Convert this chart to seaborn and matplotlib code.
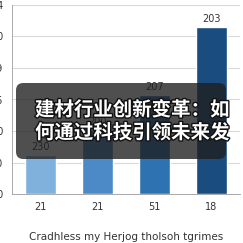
import matplotlib
matplotlib.use("Agg")
import matplotlib.pyplot as plt
import matplotlib.patheffects as pe
from matplotlib.patches import FancyBboxPatch
import seaborn as sns
import pandas as pd

# data
categories = ["c1", "c2", "c3", "c4"]
values = [1.24, 2.03, 3.14, 5.3]
bar_labels = ["230", "200", "207", "203"]
xtick_labels = ["21", "21", "51", "18"]
ytick_values = [0, 1, 2, 3, 4, 5, 6]
ytick_labels = ["00", "10", "20", "16", "19", "30", "34"]
colors = ["#80b1dd", "#4b8ac6", "#2e72b2", "#1a4c80"]
xlabel = "Cradhless my Herjog tholsoh tgrimes"
overlay_lines = ["建材行业创新变革：如", "何通过科技引领未来发"]

sns.set_style("white")
plt.rcParams["font.family"] = ["DejaVu Sans"]

df = pd.DataFrame({"cat": categories, "val": values})

fig = plt.figure(figsize=(2.43, 2.43), dpi=100)
ax = fig.add_axes([12/243, 1 - 194/243, 228/243, 189/243])

sns.barplot(data=df, x="cat", y="val", hue="cat", palette=colors,
            order=categories, hue_order=categories, width=0.53,
            legend=False, ax=ax, saturation=1)

ax.set_ylim(0, 6)
ax.set_xlim(-0.5, 3.5)
ax.set_yticks(ytick_values)
ax.set_yticklabels(ytick_labels, fontsize=7, color="#333333")
ax.tick_params(axis="y", length=0, pad=6)
ax.set_xticks(range(len(categories)))
ax.set_xticklabels(xtick_labels, fontsize=7, color="#333333")
ax.tick_params(axis="x", length=0, pad=6)
ax.set_xticks([0.5, 1.5, 2.5, 3.5], minor=True)
ax.tick_params(axis="x", which="minor", length=3, color="#bbbbbb", width=0.6)
ax.yaxis.grid(True, color="#d9d9d9", linewidth=0.8)
ax.set_axisbelow(True)
for s in ["top", "right"]:
    ax.spines[s].set_visible(False)
ax.spines["left"].set_color("#aaaaaa")
ax.spines["bottom"].set_color("#aaaaaa")
ax.spines["left"].set_linewidth(0.7)
ax.spines["bottom"].set_linewidth(0.7)
ax.set_xlabel(xlabel, fontsize=7.5, color="#333333", labelpad=14)
ax.set_ylabel("")

for i, p in enumerate(ax.patches):
    ax.annotate(bar_labels[i], (p.get_x() + p.get_width() / 2, p.get_height()),
                xytext=(0, 2), textcoords="offset points", ha="center",
                va="bottom", fontsize=7, color="#333333")

box = FancyBboxPatch((16/243, 1 - 159/243), 210/243, 76/243,
                     boxstyle="round,pad=0,rounding_size=0.03",
                     transform=fig.transFigure, facecolor="#1e1e1e",
                     alpha=0.78, edgecolor="none", zorder=10)
fig.patches.append(box)

for j, line in enumerate(overlay_lines):
    fig.text(35/243, 1 - (110 + 23*j)/243, line, fontsize=14, fontweight="bold",
             color="white", va="center", ha="left",
             family=["Noto Sans CJK SC", "DejaVu Sans"], zorder=11,
             path_effects=[pe.withStroke(linewidth=2, foreground="#111111")])

fig.savefig("out.png", dpi=100)
